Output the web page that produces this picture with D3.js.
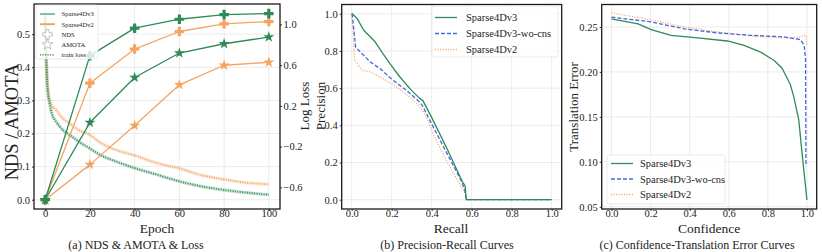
<!DOCTYPE html>
<html>
<head>
<meta charset="utf-8">
<script src="https://cdn.jsdelivr.net/npm/d3@7"></script>
<style>
  body { margin: 0; background: #fff; }
  text { font-family: "Liberation Serif", "DejaVu Serif", serif; fill: #222; }
</style>
</head>
<body>
<div id="okvir"></div>
<script>
// ---- (a) NDS / AMOTA / train loss ----
const epochs = [0, 20, 40, 60, 80, 100];
const ndsV3 = [0.0, 0.435, 0.518, 0.545, 0.559, 0.562];
const ndsV2 = [0.0, 0.352, 0.455, 0.508, 0.531, 0.538];
const amotaV3 = [0.0, 0.233, 0.369, 0.443, 0.471, 0.491];
const amotaV2 = [0.0, 0.106, 0.224, 0.347, 0.406, 0.415];

const lossEpochs = [0, 0.5, 1, 2, 3, 5, 8, 10, 12.5, 15, 20, 24.5, 32, 40, 50, 60, 69, 80, 90, 98, 100];
const lossV3 = [1.10, 0.644, 0.384, 0.221, 0.123, 0.042, -0.040, -0.072, -0.111, -0.151, -0.219, -0.281,
                -0.349, -0.411, -0.476, -0.542, -0.587, -0.626, -0.652, -0.669, -0.672];
const lossV2 = [1.035, 0.677, 0.416, 0.253, 0.205, 0.156, 0.074, 0.045, -0.001, -0.037, -0.085, -0.160,
                -0.235, -0.287, -0.362, -0.414, -0.476, -0.522, -0.555, -0.568, -0.571];

const epochTicks = [0, 20, 40, 60, 80, 100];
const scoreTicks = [0.0, 0.1, 0.2, 0.3, 0.4, 0.5];
const lossTicks = [-0.6, -0.2, 0.2, 0.6, 1.0];

// ---- (b) precision-recall ----
const prV3Recall = [0.0, 0.003, 0.028, 0.061, 0.094, 0.118, 0.151, 0.192, 0.241, 0.299, 0.34, 0.356, 0.397, 0.471, 0.553, 0.567, 0.573, 1.0];
const prV3Prec   = [1.0, 1.0, 0.973, 0.91, 0.875, 0.848, 0.794, 0.731, 0.66, 0.588, 0.545, 0.533, 0.448, 0.287, 0.098, 0.075, 0.0, 0.0];
const prWoRecall = [0.0, 0.003, 0.011, 0.02, 0.044, 0.094, 0.143, 0.208, 0.274, 0.34, 0.356, 0.389, 0.471, 0.545, 0.565, 0.573, 1.0];
const prWoPrec   = [1.0, 0.99, 0.91, 0.82, 0.794, 0.74, 0.704, 0.641, 0.588, 0.525, 0.502, 0.43, 0.26, 0.108, 0.054, 0.0, 0.0];
const prV2Recall = [0.0, 0.003, 0.008, 0.015, 0.053, 0.094, 0.159, 0.225, 0.291, 0.34, 0.373, 0.406, 0.471, 0.537, 0.567, 0.573, 1.0];
const prV2Prec   = [0.98, 0.96, 0.875, 0.75, 0.695, 0.687, 0.65, 0.606, 0.552, 0.502, 0.448, 0.358, 0.215, 0.09, 0.036, 0.0, 0.0];

const unitTicks = [0.0, 0.2, 0.4, 0.6, 0.8, 1.0];

// ---- (c) confidence - translation error ----
const ceV3Conf = [0.0, 0.136, 0.203, 0.305, 0.441, 0.593, 0.678, 0.763, 0.831, 0.873, 0.915, 0.932, 0.958, 0.975, 1.0];
const ceV3Err  = [0.259, 0.2535, 0.247, 0.2407, 0.2378, 0.2344, 0.2296, 0.222, 0.213, 0.204, 0.186, 0.173, 0.147, 0.11, 0.0575];
const ceWoConf = [0.0, 0.203, 0.373, 0.542, 0.712, 0.882, 0.966, 0.986, 0.993, 0.995];
const ceWoErr  = [0.261, 0.2556, 0.248, 0.2434, 0.2407, 0.239, 0.236, 0.2296, 0.215, 0.095];
const ceV2Conf = [0.0, 0.203, 0.373, 0.542, 0.712, 0.898, 0.966, 0.986, 0.995, 1.0];
const ceV2Err  = [0.2657, 0.258, 0.25, 0.2445, 0.240, 0.2378, 0.239, 0.2407, 0.241, 0.229];

const errTicks = [0.05, 0.10, 0.15, 0.20, 0.25];

const green = "#2e8b57";
const orange = "#f4a460";
const blue = "#4169e1";

const svg = d3.select("#okvir")
  .append("svg")
    .attr("width", 822)
    .attr("height", 252);

let clipId = 0;

function panel(box, xDomain, yDomain, xTicks, yTicks, xFmt, yFmt) {
  const g = svg.append("g");
  const x = d3.scaleLinear().domain(xDomain).range([box.left, box.right]);
  const y = d3.scaleLinear().domain(yDomain).range([box.bottom, box.top]);

  // grid
  g.selectAll(".gx").data(xTicks).join("line")
    .attr("x1", d => x(d)).attr("x2", d => x(d))
    .attr("y1", box.top).attr("y2", box.bottom)
    .attr("stroke", "#e6e6e6").attr("stroke-width", 0.8);
  g.selectAll(".gy").data(yTicks).join("line")
    .attr("y1", d => y(d)).attr("y2", d => y(d))
    .attr("x1", box.left).attr("x2", box.right)
    .attr("stroke", "#e6e6e6").attr("stroke-width", 0.8);

  const xAxis = g.append("g")
    .attr("transform", `translate(0,${box.bottom})`)
    .call(d3.axisBottom(x).tickValues(xTicks).tickFormat(d3.format(xFmt)).tickSize(2).tickPadding(0));
  xAxis.selectAll("text").attr("dy", "0.56em");
  const yAxis = g.append("g")
    .attr("transform", `translate(${box.left},0)`)
    .call(d3.axisLeft(y).tickValues(yTicks).tickFormat(d3.format(yFmt)).tickSize(2).tickPadding(2));
  [xAxis, yAxis].forEach(a => {
    a.select(".domain").remove();
    a.selectAll("line").attr("stroke", "#333");
    a.selectAll("text").style("font-size", "10.5px").attr("fill", "#222");
  });

  const id = "clip" + (clipId++);
  svg.append("clipPath").attr("id", id)
    .append("rect")
      .attr("x", box.left).attr("y", box.top)
      .attr("width", box.right - box.left).attr("height", box.bottom - box.top);
  const plot = g.append("g").attr("clip-path", `url(#${id})`);

  return { g, x, y, plot, box };
}

function frame(p) {
  p.g.append("rect")
    .attr("x", p.box.left).attr("y", p.box.top)
    .attr("width", p.box.right - p.box.left).attr("height", p.box.bottom - p.box.top)
    .attr("fill", "none").attr("stroke", "#1a1a1a").attr("stroke-width", 1.3);
}

function drawLine(p, xs, ys, color, width, dash) {
  const line = d3.line()
    .x(d => p.x(d[0]))
    .y(d => p.y(d[1]));
  return p.plot.append("path")
    .datum(xs.map((v, i) => [v, ys[i]]))
    .attr("d", line)
    .attr("fill", "none")
    .attr("stroke", color)
    .attr("stroke-width", width)
    .attr("stroke-dasharray", dash || null)
    .attr("stroke-linejoin", "round");
}

function label(x, y, txt, size, rotate, anchor) {
  svg.append("text")
    .attr("transform", `translate(${x},${y})` + (rotate ? " rotate(-90)" : ""))
    .attr("text-anchor", anchor || "middle")
    .style("font-size", size + "px")
    .text(txt);
}

// ================= panel (a) =================
const pa = panel({ left: 34, right: 280, top: 4, bottom: 209 }, [-5, 105], [-0.028, 0.591],
  epochTicks, scoreTicks, "d", ".1f");

const yLoss = d3.scaleLinear().domain([-0.813, 1.2]).range([209, 4]);
const rAxis = pa.g.append("g")
  .attr("transform", "translate(280,0)")
  .call(d3.axisRight(yLoss).tickValues(lossTicks).tickFormat(d3.format(".1f")).tickSize(2).tickPadding(1.5));
rAxis.select(".domain").remove();
rAxis.selectAll("line").attr("stroke", "#333");
rAxis.selectAll("text").style("font-size", "10.5px");

// train loss (noisy band drawn as a dotted curve over a faint halo)
[[lossV2, orange], [lossV3, green]].forEach(([ys, c]) => {
  const band = d3.line().curve(d3.curveMonotoneX)
    .x(d => pa.x(d[0])).y(d => yLoss(d[1]));
  const pts = lossEpochs.map((e, i) => [e, ys[i]]);
  pa.plot.append("path").datum(pts).attr("d", band)
    .attr("fill", "none").attr("stroke", c).attr("stroke-width", 3.4).attr("stroke-opacity", 0.25);
  pa.plot.append("path").datum(pts).attr("d", band)
    .attr("fill", "none").attr("stroke", c).attr("stroke-width", 1.8)
    .attr("stroke-dasharray", "1,1.4");
});

const crossSym = d3.symbol().type(d3.symbolCross).size(50);
const starSym = d3.symbol().type(d3.symbolStar).size(38);

[[ndsV2, orange, crossSym], [amotaV2, orange, starSym], [ndsV3, green, crossSym], [amotaV3, green, starSym]]
  .forEach(([ys, c, sym]) => {
    drawLine(pa, epochs, ys, c, 1.3);
    pa.plot.selectAll(null).data(epochs).join("path")
      .attr("transform", (d, i) => `translate(${pa.x(d)},${pa.y(ys[i])})`)
      .attr("d", sym)
      .attr("fill", c);
  });

// legend (a)
const lgA = svg.append("g");
lgA.append("rect").attr("x", 36).attr("y", 5).attr("width", 62).attr("height", 54).attr("rx", 2)
  .attr("fill", "#fff").attr("fill-opacity", 0.8).attr("stroke", "#ddd").attr("stroke-width", 0.6);
const lgAItems = ["Sparse4Dv3", "Sparse4Dv2", "NDS", "AMOTA", "train loss"];
lgAItems.forEach((t, i) => {
  const yy = 14 + i * 10.2;
  if (i === 0) lgA.append("line").attr("x1", 40).attr("x2", 55).attr("y1", yy).attr("y2", yy).attr("stroke", green).attr("stroke-width", 1.1);
  if (i === 1) lgA.append("line").attr("x1", 40).attr("x2", 55).attr("y1", yy).attr("y2", yy).attr("stroke", orange).attr("stroke-width", 2);
  if (i === 2) lgA.append("path").attr("d", crossSym).attr("transform", `translate(47.5,${yy})`).attr("fill", "#fff").attr("stroke", "#aaa").attr("stroke-width", 0.7);
  if (i === 3) lgA.append("path").attr("d", starSym).attr("transform", `translate(47.5,${yy})`).attr("fill", "#fff").attr("stroke", "#aaa").attr("stroke-width", 0.7);
  if (i === 4) lgA.append("line").attr("x1", 40).attr("x2", 55).attr("y1", yy).attr("y2", yy).attr("stroke", "#3d6b55").attr("stroke-width", 1.3).attr("stroke-dasharray", "1.2,1.3");
  lgA.append("text").attr("x", 61.5).attr("y", yy + 2.3).style("font-size", "6.6px").text(t);
});
frame(pa);

label(157, 233, "Epoch", 13.5);
label(18, 122, "NDS / AMOTA", 18.5, true);
label(309, 106, "Log Loss", 13, true);
label(136, 249, "(a) NDS & AMOTA & Loss", 12);

// ================= panel (b) =================
const pb = panel({ left: 341.7, right: 561.7, top: 4.5, bottom: 209 }, [-0.05, 1.05], [-0.05, 1.05],
  unitTicks, unitTicks, ".1f", ".1f");
drawLine(pb, prV2Recall, prV2Prec, orange, 1.3, "1,1.6");
drawLine(pb, prWoRecall, prWoPrec, blue, 1.3, "4,2");
drawLine(pb, prV3Recall, prV3Prec, green, 1.3);

const lgB = svg.append("g");
lgB.append("rect").attr("x", 432).attr("y", 6).attr("width", 126).attr("height", 51).attr("rx", 2)
  .attr("fill", "#fff").attr("fill-opacity", 0.8).attr("stroke", "#ddd").attr("stroke-width", 0.6);
[["Sparse4Dv3", green, null], ["Sparse4Dv3-wo-cns", blue, "4,2"], ["Sparse4Dv2", orange, "1,1.6"]].forEach(([t, c, dash], i) => {
  const yy = 17.5 + i * 16;
  lgB.append("line").attr("x1", 435).attr("x2", 457).attr("y1", yy).attr("y2", yy)
    .attr("stroke", c).attr("stroke-width", 1.3).attr("stroke-dasharray", dash);
  lgB.append("text").attr("x", 466).attr("y", yy + 3.5).style("font-size", "10.5px").text(t);
});
frame(pb);

label(451, 233, "Recall", 13.5);
label(325, 106, "Precision", 13, true);
label(447, 249, "(b) Precision-Recall Curves", 12);

// ================= panel (c) =================
const pc = panel({ left: 601.7, right: 816.7, top: 4.5, bottom: 209 }, [-0.05, 1.05], [0.0475, 0.275],
  unitTicks, errTicks, ".1f", ".2f");
drawLine(pc, ceV2Conf, ceV2Err, orange, 1.3, "1,1.6");
drawLine(pc, ceWoConf, ceWoErr, blue, 1.3, "4,2");
drawLine(pc, ceV3Conf, ceV3Err, green, 1.3);

const lgC = svg.append("g");
lgC.append("rect").attr("x", 607).attr("y", 155).attr("width", 118).attr("height", 49).attr("rx", 2)
  .attr("fill", "#fff").attr("fill-opacity", 0.8).attr("stroke", "#ddd").attr("stroke-width", 0.6);
[["Sparse4Dv3", green, null], ["Sparse4Dv3-wo-cns", blue, "4,2"], ["Sparse4Dv2", orange, "1,1.6"]].forEach(([t, c, dash], i) => {
  const yy = 163.5 + i * 15.5;
  lgC.append("line").attr("x1", 611).attr("x2", 633).attr("y1", yy).attr("y2", yy)
    .attr("stroke", c).attr("stroke-width", 1.3).attr("stroke-dasharray", dash);
  lgC.append("text").attr("x", 640).attr("y", yy + 3.5).style("font-size", "10.5px").text(t);
});
frame(pc);

label(709, 233, "Confidence", 13.5);
label(578, 107, "Translation Error", 13, true);
label(697, 249, "(c) Confidence-Translation Error Curves", 12);
</script>
</body>
</html>
